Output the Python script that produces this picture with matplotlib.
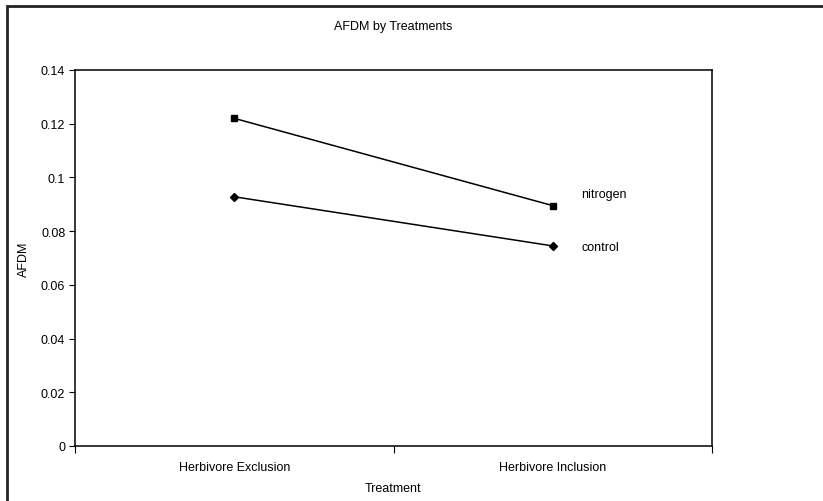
import matplotlib
matplotlib.use("Agg")
import matplotlib.pyplot as plt
from matplotlib.patches import Rectangle

# data
categories = ["Herbivore Exclusion", "Herbivore Inclusion"]
nitrogen = [0.122, 0.0895]
control = [0.0928, 0.0745]
series_names = ["nitrogen", "control"]

plt.rcParams["font.family"] = ["Liberation Sans", "DejaVu Sans"]
plt.rcParams["font.size"] = 9

W, H = 823, 502
fig = plt.figure(figsize=(W / 100, H / 100), dpi=100)

# axes box in pixels: left 75, right 712, top 71, bottom 447
ax = fig.add_axes([75 / W, 1 - 447 / H, (712 - 75) / W, (447 - 71) / H])

xs = [0.5, 1.5]
ax.plot(xs, nitrogen, color="black", lw=1.1, marker="s", ms=5, clip_on=False)
ax.plot(xs, control, color="black", lw=1.1, marker="D", ms=4.5, clip_on=False)

# series names sit to the right of the last points
ax.text(xs[1] + 0.09, nitrogen[1] + 0.0045, series_names[0], fontsize=9, va="center")
ax.text(xs[1] + 0.09, control[1] - 0.0003, series_names[1], fontsize=9, va="center")

ax.set_xlim(0, 2)
ax.set_ylim(0, 0.14)
ax.set_xticks([0, 1, 2])
ax.set_xticklabels([])
ax.set_xticks(xs, minor=True)
ax.set_xticklabels(categories, minor=True)
ax.tick_params(axis="x", which="minor", length=0, pad=11)
ax.tick_params(axis="x", which="major", length=5, direction="out")
ax.set_yticks([0, 0.02, 0.04, 0.06, 0.08, 0.1, 0.12, 0.14])
ax.set_yticklabels(["0", "0.02", "0.04", "0.06", "0.08", "0.1", "0.12", "0.14"])
ax.tick_params(axis="y", length=4, direction="out", pad=3)

for s in ax.spines.values():
    s.set_linewidth(1.1)

ax.set_xlabel("Treatment", labelpad=6)
ax.set_ylabel("AFDM", labelpad=8)
fig.text((75 + 712) / 2 / W, 1 - 27 / H, "AFDM by Treatments", ha="center", va="center", fontsize=9)

# outer chart border (runs off the right and bottom edge)
fig.patches.append(Rectangle((7 / W, -0.1), 1.2, 1 - 7 / H + 0.1, transform=fig.transFigure,
                             fill=False, edgecolor="#222222", lw=2))

fig.savefig("out.png", dpi=100)
